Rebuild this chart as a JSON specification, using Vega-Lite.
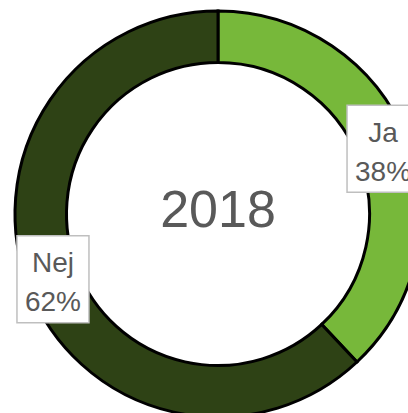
{
  "$schema": "https://vega.github.io/schema/vega-lite/v6.json",
  "width": 436,
  "height": 428,
  "padding": 0,
  "autosize": {"type": "none"},
  "background": "white",
  "config": {"view": {"stroke": null}},
  "datasets": {
    "shares": [
      {"cat": "Ja", "share": 0.38},
      {"cat": "Nej", "share": 0.62}
    ],
    "title": [{"year": "2018"}]
  },
  "layer": [
    {
      "data": {"name": "shares"},
      "mark": {"type": "arc", "outerRadius": 203, "innerRadius": 151.5, "stroke": "#000000", "strokeWidth": 3},
      "encoding": {
        "theta": {"field": "share", "type": "quantitative", "stack": true},
        "color": {"field": "cat", "type": "nominal", "scale": {"domain": ["Ja", "Nej"], "range": ["#77B83A", "#2E4215"]}, "legend": null},
        "order": {"field": "cat", "sort": "ascending"}
      }
    },
    {
      "data": {"name": "shares"},
      "transform": [
        {"window": [{"op": "sum", "field": "share", "as": "cum"}], "frame": [null, 0]},
        {"calculate": "(datum.cum - datum.share / 2) * 2 * PI", "as": "mid"},
        {"calculate": "177.5 * sin(datum.mid)", "as": "bx"},
        {"calculate": "177.5 * cos(datum.mid)", "as": "by"},
        {"calculate": "datum.bx - 36", "as": "bx1"},
        {"calculate": "datum.bx + 36", "as": "bx2"},
        {"calculate": "datum.by - 43.5", "as": "by1"},
        {"calculate": "datum.by + 43.5", "as": "by2"}
      ],
      "layer": [
        {
          "mark": {"type": "rect", "fill": "#FFFFFF", "stroke": "#BFBFBF", "strokeWidth": 1.5},
          "encoding": {
            "x": {"field": "bx1", "type": "quantitative", "scale": {"domain": [-218, 218]}, "axis": null},
            "x2": {"field": "bx2"},
            "y": {"field": "by1", "type": "quantitative", "scale": {"domain": [-214, 214]}, "axis": null},
            "y2": {"field": "by2"}
          }
        },
        {
          "mark": {"type": "text", "font": "Liberation Sans", "fontSize": 28, "color": "#595959", "baseline": "alphabetic", "align": "center", "dy": -7},
          "encoding": {
            "x": {"field": "bx", "type": "quantitative", "scale": {"domain": [-218, 218]}, "axis": null},
            "y": {"field": "by", "type": "quantitative", "scale": {"domain": [-214, 214]}, "axis": null},
            "text": {"field": "cat"}
          }
        },
        {
          "mark": {"type": "text", "font": "Liberation Sans", "fontSize": 28, "color": "#595959", "baseline": "alphabetic", "align": "center", "dy": 32},
          "encoding": {
            "x": {"field": "bx", "type": "quantitative", "scale": {"domain": [-218, 218]}, "axis": null},
            "y": {"field": "by", "type": "quantitative", "scale": {"domain": [-214, 214]}, "axis": null},
            "text": {"field": "share", "type": "quantitative", "format": ".0%"}
          }
        }
      ]
    },
    {
      "data": {"name": "title"},
      "mark": {"type": "text", "font": "Liberation Sans", "fontSize": 52, "color": "#595959", "baseline": "alphabetic", "align": "center", "dy": 13},
      "encoding": {
        "x": {"datum": 0, "type": "quantitative", "scale": {"domain": [-218, 218]}, "axis": null},
        "y": {"datum": 0, "type": "quantitative", "scale": {"domain": [-214, 214]}, "axis": null},
        "text": {"field": "year"}
      }
    }
  ]
}
